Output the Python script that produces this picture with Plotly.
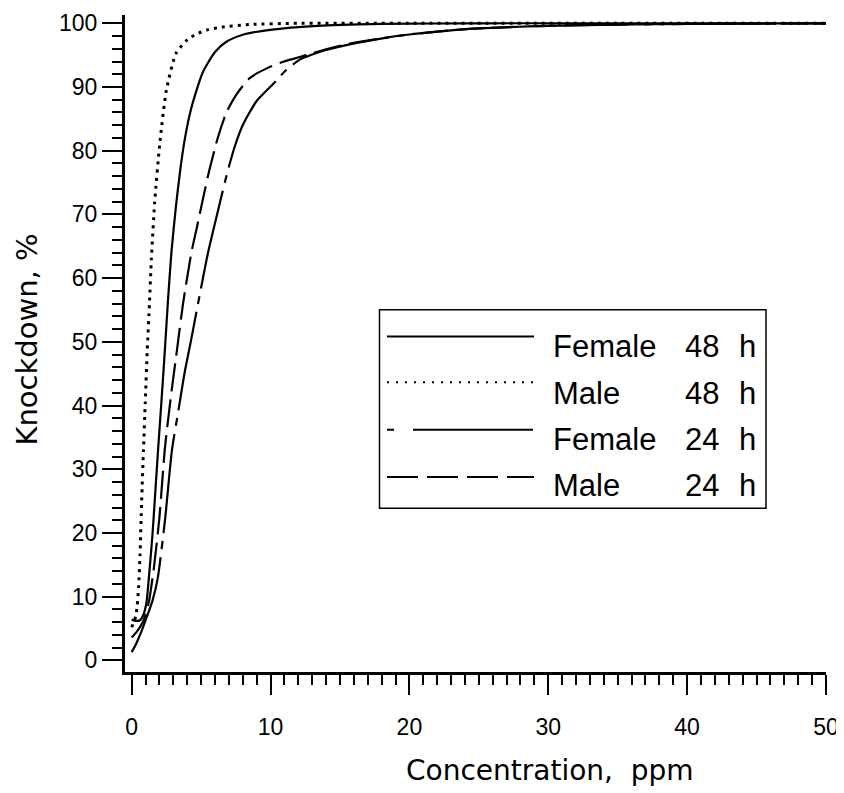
import plotly.graph_objects as go

# ---- data ----
f48_x = [0, 0.3, 0.6, 0.85, 1.06, 1.3, 1.5, 1.66, 1.9, 2.14, 2.4, 2.6, 2.86, 3.2, 3.5, 3.8,
         4.18, 4.6, 5.14, 6.0, 6.82, 8.0, 9.7, 12.0, 14.5, 18, 25, 35, 50]
f48_y = [6.4, 6.2, 6.3, 7.2, 9.0, 14.5, 19.8, 25, 33, 40.5, 49, 56, 64, 71.5, 77, 81.5,
         85.7, 89, 92.4, 95.5, 97.1, 98.2, 98.9, 99.4, 99.7, 99.9, 100, 100, 100]

m48_x = [0, 0.15, 0.3, 0.4, 0.5, 0.6, 0.72, 0.85, 0.98, 1.12, 1.28, 1.42, 1.66, 2.02, 2.5,
         3.2, 4.0, 4.66, 5.5, 6.5, 8.5, 12, 20, 35, 50]
m48_y = [5.2, 6.0, 7.0, 8.6, 11.5, 16.5, 25, 33, 40.5, 48.5, 56, 63, 72, 81, 89.5,
         95.3, 97.4, 98.3, 99.0, 99.4, 99.8, 100, 100, 100, 100]

f24_x = [0, 0.3, 0.6, 1.0, 1.49, 1.87, 2.4, 2.9, 3.35, 3.8, 4.3, 4.78, 5.5, 6.34, 6.82, 7.4,
         8.02, 9.0, 10.2, 11.0, 12.1, 13, 14, 15.7, 19.1, 22, 25, 30, 35, 40, 50]
f24_y = [1.3, 2.5, 4.0, 6.3, 9.3, 12.8, 22, 33, 39, 45, 50.5, 56, 64, 71.7, 76, 80.5,
         84.1, 87.8, 90.5, 92.4, 94.3, 95.1, 95.8, 96.7, 98.0, 98.7, 99.2, 99.6, 99.8, 99.9, 100]

m24_x = [0, 0.4, 0.8, 1.0, 1.25, 1.6, 2.0, 2.38, 2.8, 3.25, 3.7, 4.3, 4.7, 5.14, 5.6, 6.2,
         6.82, 7.6, 8.5, 9.8, 11.1, 12.1, 13, 14, 15.7, 19.1, 22, 25, 30, 35, 40, 50]
m24_y = [3.6, 4.6, 6.0, 7.2, 9.3, 14.5, 22.5, 33, 41, 48.5, 56, 64, 68, 72.5, 77, 82,
         86, 89, 91.4, 93.0, 94.1, 94.7, 95.3, 95.9, 96.8, 98.0, 98.7, 99.2, 99.6, 99.8, 99.9, 100]

series_names = ["Female", "Male", "Female", "Male"]
series_hours = ["48", "48", "24", "24"]

# ---- styles ----
curve_dash = ["solid", "3px,5px", "100px,8px,8px,8px", "28px,8px"]
curve_width = [2.2, 3, 2.2, 2.2]
legend_dash = ["solid", "2px,7px", "7px,19px,120px", "31px,9px"]
legend_width = [2, 2, 2, 2]

fig = go.Figure()
for xs, ys, dash, w, nm, hr in zip([f48_x, m48_x, f24_x, m24_x],
                                   [f48_y, m48_y, f24_y, m24_y],
                                   curve_dash, curve_width, series_names, series_hours):
    fig.add_trace(go.Scatter(x=xs, y=ys, mode="lines", name=f"{nm} {hr} h",
                             line=dict(color="black", width=w, dash=dash,
                                       shape="spline", smoothing=0.6)))

# page body has an 8px margin: figure coordinates = window coordinates - 8
OFF = 8
WIN_W, WIN_H = 844, 793
W, H = WIN_W - OFF, WIN_H - OFF
# plot area in window pixels
L, R, T, B = 125, 826, 10, 672

def px(xw):
    return (xw - L) / (R - L)

def py(yw):
    return (B - yw) / (B - T)

tickfont = dict(family="Liberation Sans, Arial", size=23, color="black")
axis_common = dict(showline=True, linewidth=3, linecolor="black", mirror=False,
                   ticks="outside", ticklen=20, tickwidth=2, tickcolor="black",
                   showgrid=False, zeroline=False, tickfont=tickfont,
                   ticklabeloverflow="allow")

fig.update_xaxes(range=[-0.48, 50], tick0=0, dtick=10, ticklabelstandoff=12,
                 minor=dict(dtick=1, ticklen=10, tickwidth=2, tickcolor="black",
                            ticks="outside", showgrid=False),
                 **axis_common)
fig.update_yaxes(range=[-1.82, 101.3], tick0=0, dtick=10,
                 minor=dict(dtick=2, ticklen=10, tickwidth=2, tickcolor="black",
                            ticks="outside", showgrid=False),
                 **axis_common)

shapes = []
annotations = []
# legend box
shapes.append(dict(type="rect", xref="paper", yref="paper",
                   x0=px(379.5), x1=px(766), y0=py(507), y1=py(307),
                   line=dict(color="black", width=1.5)))
line_y = [334, 380, 428, 475.6]
text_y = [344, 391, 438, 484]
lfont = dict(family="Liberation Sans, Arial", size=31, color="black")
for i in range(4):
    shapes.append(dict(type="line", xref="paper", yref="paper",
                       x0=px(387), x1=px(534), y0=py(line_y[i]), y1=py(line_y[i]),
                       line=dict(color="black", width=legend_width[i], dash=legend_dash[i])))
    for txt, xpix in [(series_names[i], 551), (series_hours[i], 683), ("h", 737)]:
        annotations.append(dict(text=txt, xref="paper", yref="paper",
                                x=px(xpix), y=py(text_y[i]), xanchor="left",
                                yanchor="middle", showarrow=False, font=lfont))

# axis titles
annotations.append(dict(text="Concentration,\u00a0\u00a0ppm", xref="paper", yref="paper",
                        x=px(550), y=py(771), xanchor="center", yanchor="middle",
                        showarrow=False,
                        font=dict(family="DejaVu Sans", size=28, color="black")))
annotations.append(dict(text="Knockdown,\u00a0%", xref="paper", yref="paper",
                        x=px(27), y=py(337), xanchor="center", yanchor="middle",
                        textangle=-90, showarrow=False,
                        font=dict(family="DejaVu Sans", size=29, color="black")))

fig.update_layout(width=W, height=H,
                  margin=dict(l=L - OFF, r=W - (R - OFF), t=T - OFF, b=H - (B - OFF), pad=0),
                  plot_bgcolor="white", paper_bgcolor="white",
                  showlegend=False, shapes=shapes, annotations=annotations)

fig.write_html("out.html")
